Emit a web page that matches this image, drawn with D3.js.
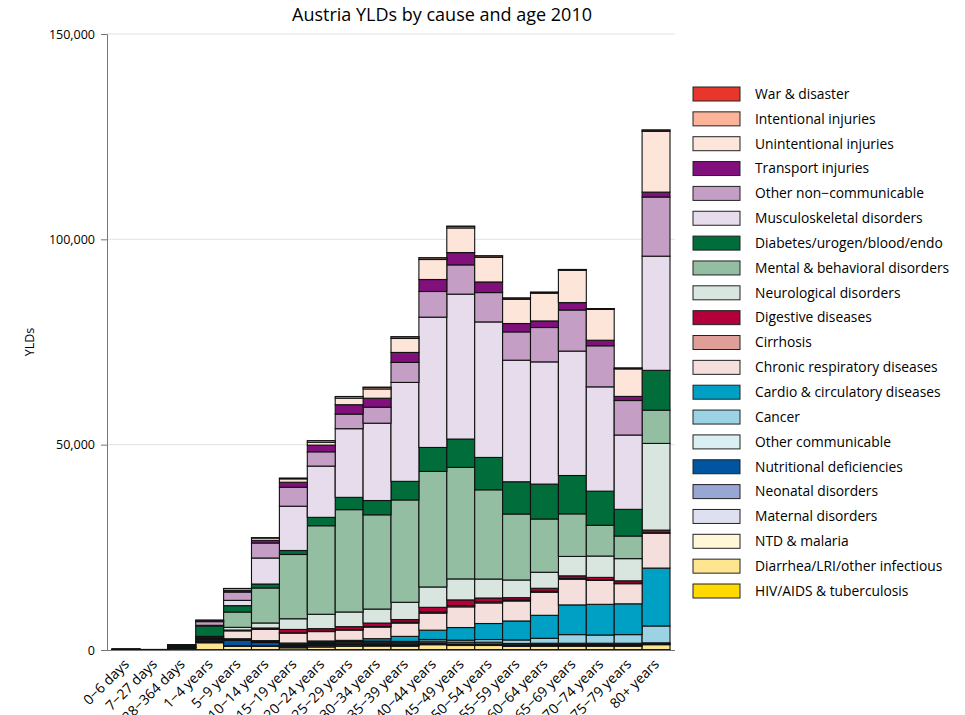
<!DOCTYPE html>
<html>
<head>
<meta charset="utf-8">
<script src="https://cdn.jsdelivr.net/npm/d3@7"></script>
<style>
  body { margin: 0; background: #fff; }
  text { font-family: "Open Sans", "Liberation Sans", Arial, sans-serif; fill: #000; }
</style>
</head>
<body>
<svg id="chart" width="965" height="715"></svg>
<script>
const ages = ["0−6 days", "7−27 days", "28−364 days", "1−4 years", "5−9 years", "10−14 years",
    "15−19 years", "20−24 years", "25−29 years", "30−34 years", "35−39 years", "40−44 years",
    "45−49 years", "50−54 years", "55−59 years", "60−64 years", "65−69 years", "70−74 years",
    "75−79 years", "80+ years"]

// causes, bottom of the stack first
const causes = ["HIV/AIDS & tuberculosis", "Diarrhea/LRI/other infectious", "NTD & malaria",
    "Maternal disorders", "Neonatal disorders", "Nutritional deficiencies", "Other communicable",
    "Cancer", "Cardio & circulatory diseases", "Chronic respiratory diseases", "Cirrhosis",
    "Digestive diseases", "Neurological disorders", "Mental & behavioral disorders",
    "Diabetes/urogen/blood/endo", "Musculoskeletal disorders", "Other non−communicable",
    "Transport injuries", "Unintentional injuries", "Intentional injuries", "War & disaster"]

const colors = ["#ffda00", "#fde68f", "#fff7d8", "#dee0f0", "#97a6d3", "#0054a0", "#daeff2",
    "#9bd3e5", "#00a0c4", "#f4dfdc", "#e09e99", "#b1003a", "#d9e6df", "#93bea2",
    "#006d3a", "#e7dceb", "#c49ec4", "#810f7c", "#fee5d9", "#fbb39a", "#e8362a"]

// YLDs per age group, one array per cause
const hiv = [0, 0, 5, 80, 100, 100, 50, 100, 100, 100, 100, 100, 100, 100, 100, 100, 100, 100, 100, 100]
const diarrhea = [30, 20, 300, 1700, 800, 780, 500, 650, 800, 880, 850, 1200, 1000, 1000, 800, 850, 850, 850, 850, 1200]
const ntd = [0, 0, 5, 20, 50, 50, 50, 50, 50, 50, 50, 50, 50, 50, 50, 50, 50, 50, 50, 50]
const maternal = [0, 0, 0, 0, 0, 0, 100, 300, 300, 250, 100, 20, 0, 0, 0, 0, 0, 0, 0, 0]
const neonatal = [150, 80, 150, 100, 100, 100, 100, 100, 100, 100, 100, 100, 100, 100, 100, 100, 100, 100, 100, 100]
const nutritional = [5, 5, 100, 200, 1290, 800, 300, 300, 300, 300, 300, 300, 250, 250, 250, 250, 250, 250, 250, 150]
const otherComm = [5, 5, 50, 150, 150, 150, 200, 250, 300, 300, 300, 400, 400, 400, 300, 300, 300, 300, 300, 150]
const cancer = [0, 0, 10, 60, 100, 100, 100, 150, 150, 200, 300, 400, 500, 650, 850, 1200, 2100, 2000, 2100, 4100]
const cardio = [0, 0, 30, 80, 150, 200, 300, 300, 250, 580, 1220, 2260, 3070, 3900, 4620, 5600, 7230, 7470, 7500, 14100]
const chronicResp = [0, 0, 50, 300, 1950, 2750, 2430, 2290, 2500, 2820, 3240, 4140, 5040, 5010, 4870, 5600, 6250, 5840, 4900, 8500]
const cirrhosis = [0, 0, 0, 10, 20, 30, 50, 80, 100, 150, 200, 300, 300, 300, 250, 250, 200, 150, 100, 100]
const digestive = [0, 0, 20, 60, 150, 300, 830, 630, 730, 830, 650, 1120, 1390, 900, 560, 730, 630, 570, 600, 650]
const neuro = [5, 5, 50, 250, 660, 1220, 2600, 3500, 3580, 3410, 4210, 4960, 5110, 4620, 4300, 3900, 4720, 5200, 5400, 21100]
const mental = [0, 0, 30, 300, 3720, 8520, 15650, 21560, 24920, 22950, 24920, 28130, 27160, 21730, 16060, 12970, 10370, 7500, 5500, 8100]
const diabetes = [0, 0, 300, 2550, 1560, 970, 970, 2040, 2990, 3480, 4530, 5840, 6900, 7880, 7860, 8500, 9340, 8300, 6500, 9700]
const musculo = [0, 0, 20, 150, 1290, 6330, 10780, 12480, 16720, 18830, 24090, 31730, 35280, 33000, 29600, 29760, 30300, 25400, 18100, 27800]
const otherNcd = [5, 5, 100, 900, 2020, 3650, 4620, 3480, 3550, 3890, 4870, 6250, 7130, 7150, 6890, 8370, 10000, 10000, 8400, 14400]
const transport = [0, 0, 5, 80, 350, 650, 1220, 1630, 2290, 2190, 2430, 2920, 3000, 2580, 2040, 1600, 1800, 1350, 1000, 1200]
const unintentional = [5, 5, 30, 250, 480, 560, 830, 700, 1600, 2260, 3400, 4870, 6000, 6000, 5900, 6740, 7860, 7500, 6700, 14800]
const intentional = [0, 0, 5, 30, 50, 100, 200, 400, 400, 400, 400, 400, 400, 350, 300, 250, 200, 200, 200, 300]
const war = [0, 0, 0, 0, 0, 0, 0, 0, 0, 5, 5, 5, 5, 5, 5, 5, 10, 10, 10, 20]

const series = [hiv, diarrhea, ntd, maternal, neonatal, nutritional, otherComm, cancer, cardio,
    chronicResp, cirrhosis, digestive, neuro, mental, diabetes, musculo, otherNcd, transport,
    unintentional, intentional, war]

const yTicks = [0, 50000, 100000, 150000]

const rows = ages.map((age, i) => {
    const row = { age }
    causes.forEach((c, j) => row[c] = series[j][i])
    return row
})

const svg = d3.select("#chart")
const plotLeft = 107, plotRight = 675, plotTop = 34, plotBottom = 650

const x = d3.scaleBand().domain(ages).range([112, 670]).padding(0)
const y = d3.scaleLinear().domain([0, 150000]).range([plotBottom, plotTop])
const color = d3.scaleOrdinal(causes, colors)

// grid
svg.append("g")
    .selectAll("line")
    .data(yTicks.slice(1))
    .join("line")
    .attr("x1", plotLeft).attr("x2", plotRight)
    .attr("y1", d => y(d)).attr("y2", d => y(d))
    .attr("stroke", "#e2e2e2")
    .attr("stroke-width", 1)

const stacked = d3.stack().keys(causes)(rows)

svg.append("g")
    .selectAll("g")
    .data(stacked)
    .join("g")
    .attr("fill", d => color(d.key))
    .selectAll("rect")
    .data(d => d)
    .join("rect")
    .attr("x", d => x(d.data.age))
    .attr("width", x.bandwidth())
    .attr("y", d => y(d[1]))
    .attr("height", d => Math.max(0, y(d[0]) - y(d[1])))
    .attr("stroke", "#111")
    .attr("stroke-width", 1.1)

// y axis
const yAxis = svg.append("g")
    .attr("transform", `translate(${plotLeft},0)`)
    .call(d3.axisLeft(y).tickValues(yTicks).tickSize(6).tickPadding(6).tickFormat(d3.format(",")))
yAxis.select(".domain").attr("stroke", "#777")
yAxis.selectAll(".tick line").attr("stroke", "#777")
yAxis.selectAll("text").attr("font-size", 12.5).attr("font-family", "Open Sans, sans-serif")

// x axis
svg.append("line")
    .attr("x1", plotLeft).attr("x2", plotRight)
    .attr("y1", plotBottom + 0.5).attr("y2", plotBottom + 0.5)
    .attr("stroke", "#777")

svg.append("g")
    .selectAll("text")
    .data(ages)
    .join("text")
    .attr("transform", d => `translate(${x(d) + x.bandwidth() / 2 + 4},${plotBottom + 15}) rotate(-45)`)
    .attr("text-anchor", "end")
    .attr("font-size", 14)
    .text(d => d)

svg.append("text")
    .attr("x", 442)
    .attr("y", 21)
    .attr("text-anchor", "middle")
    .attr("font-size", 18)
    .text("Austria YLDs by cause and age 2010")

svg.append("text")
    .attr("transform", `translate(34,${(plotTop + plotBottom) / 2}) rotate(-90)`)
    .attr("text-anchor", "middle")
    .attr("font-size", 12.5)
    .text("YLDs")

// legend, top entry is the top of the stack
const legend = svg.append("g")
    .selectAll("g")
    .data(causes.slice().reverse())
    .join("g")
    .attr("transform", (d, i) => `translate(693,${94 + i * 24.85})`)

legend.append("rect")
    .attr("x", 0).attr("y", -7)
    .attr("width", 47).attr("height", 14)
    .attr("fill", d => color(d))
    .attr("stroke", "#222")
    .attr("stroke-width", 1)

legend.append("text")
    .attr("x", 62)
    .attr("dy", "0.35em")
    .attr("font-size", 13.8)
    .text(d => d)
</script>
</body>
</html>
